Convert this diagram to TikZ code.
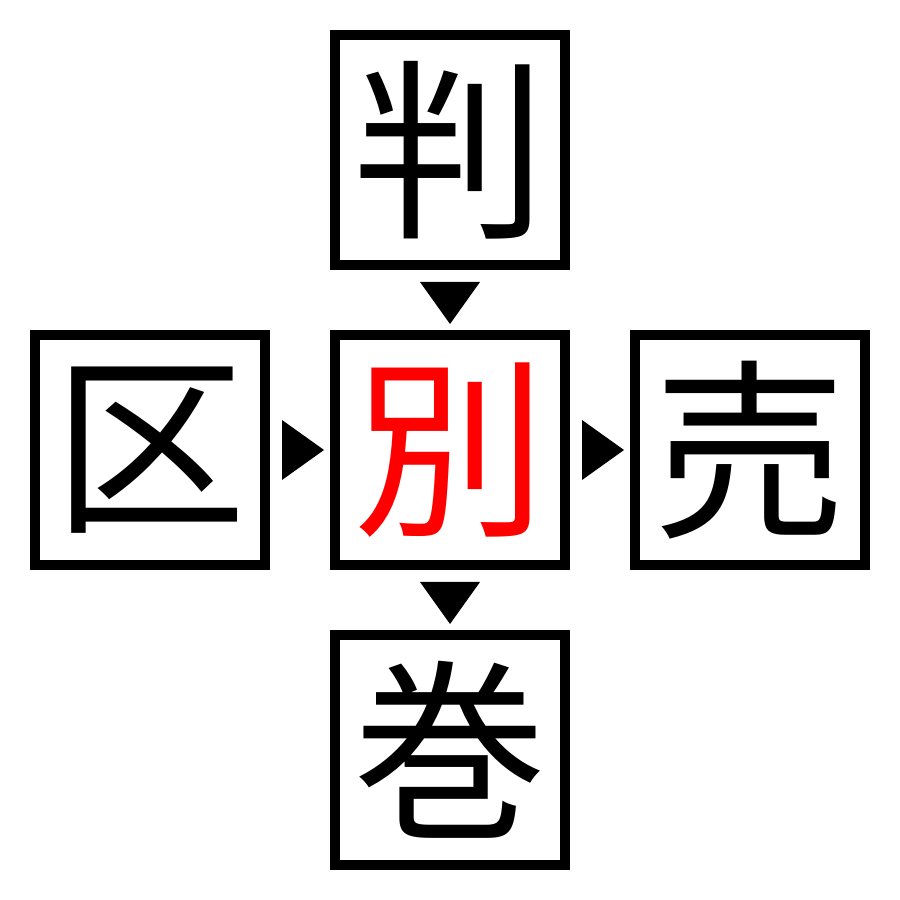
\documentclass[tikz,border=0pt]{standalone}
\usepackage{fontspec}
\newfontfamily\cjk{Noto Sans CJK JP}
\usetikzlibrary{calc, positioning}

\begin{document}
\begin{tikzpicture}[
		kanjibox/.style={draw, line width=0.1cm, minimum size=2.3cm, inner sep=0pt,
			font=\cjk\fontsize{55}{55}\selectfont},
		node distance=0.6cm
	]
		\useasboundingbox (0,0) rectangle (9,9);
		
		% Center Box
		\node[kanjibox, text=red] (mid) at (4.5,4.5) {別};
		
		% Outer Boxes
		\node[kanjibox, above=of mid] (top) {判};
		\node[kanjibox, left=of mid] (left) {区};
		\node[kanjibox, right=of mid] (right) {売};
		\node[kanjibox, below=of mid] (bot) {巻};
		
		% Triangles between the boxes
		\foreach \a/\b/\ang in {top/mid/0, mid/bot/0, left/mid/90, mid/right/90} {
			\path ($(\a)!0.5!(\b)$) coordinate (gap);
			\fill[black, shift={(gap)}, rotate=\ang] (-0.3,0.18) -- (0.3,0.18) -- (0,-0.24) -- cycle;
		}
	\end{tikzpicture}
\end{document}
